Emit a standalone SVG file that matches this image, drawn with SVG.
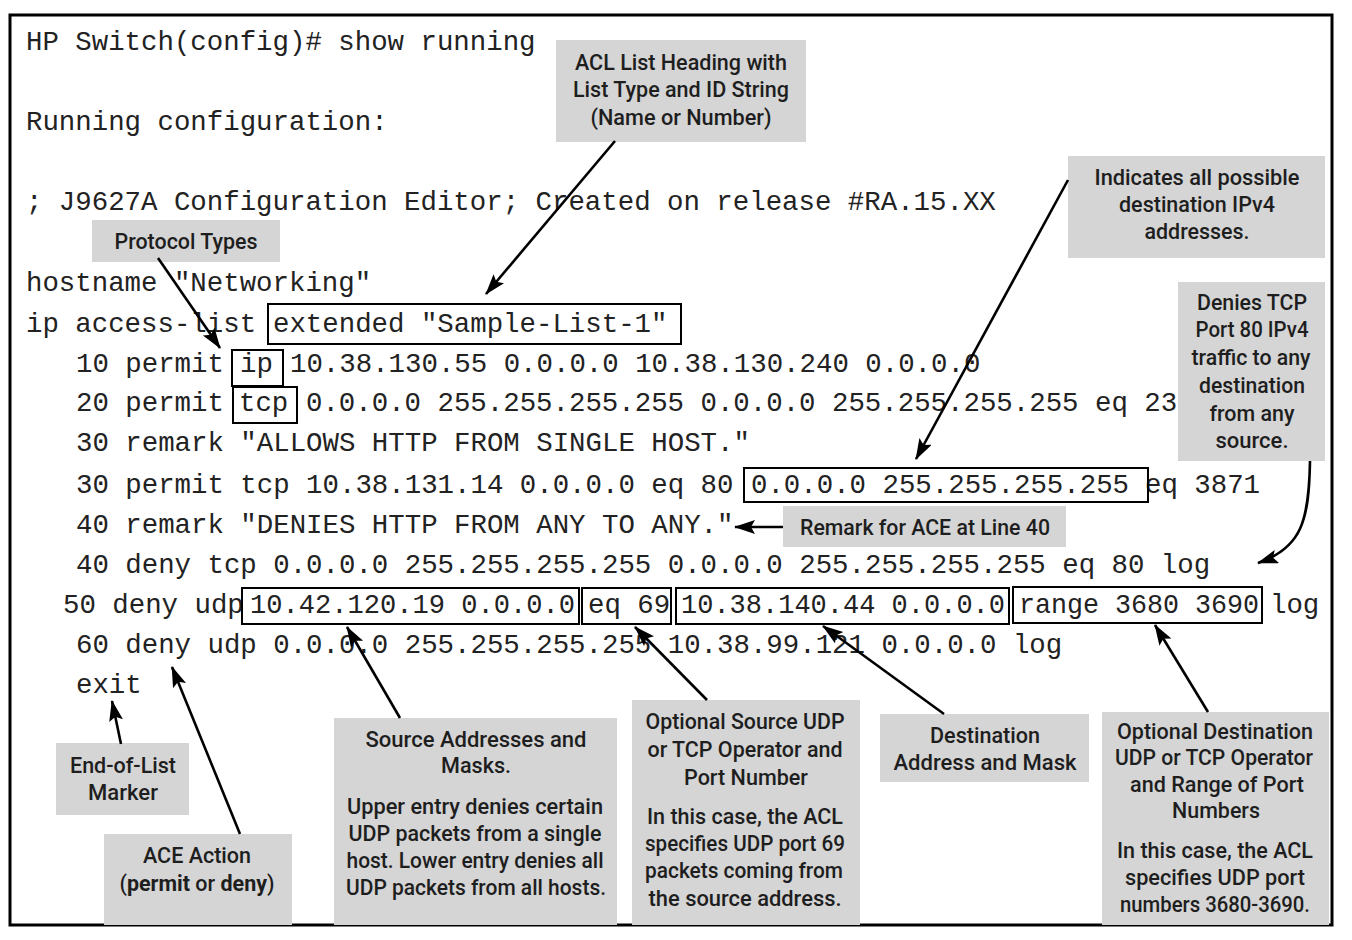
<svg xmlns="http://www.w3.org/2000/svg" width="1352" height="940" viewBox="0 0 1352 940">
<style>
.code{font-family:"Liberation Mono","Courier New",monospace;font-size:27.4px;fill:#222;}
.cbox{fill:none;stroke:#000;stroke-width:2;}
.call{fill:#d5d5d5;}
.lbl{font-family:Roboto,"Liberation Sans",sans-serif;font-size:22px;font-weight:500;fill:#1e1e1e;text-anchor:middle;}
.con{stroke:#000;stroke-width:2.6;fill:none;marker-end:url(#ah);}
</style>
<defs>
<marker id="ah" markerUnits="userSpaceOnUse" markerWidth="24" markerHeight="16" refX="20" refY="7" orient="auto">
<path d="M0,0 L21,7 L0,14 L4,7 Z" fill="#000"/>
</marker>
</defs>
<rect x="0" y="0" width="1352" height="940" fill="#fff"/>
<rect x="10" y="15" width="1322" height="910" fill="none" stroke="#000" stroke-width="3"/>

<g id="code">
<text class="code" x="26" y="50">HP Switch(config)# show running</text>
<text class="code" x="26" y="130">Running configuration:</text>
<text class="code" x="26" y="210">; J9627A Configuration Editor; Created on release #RA.15.XX</text>
<text class="code" x="26" y="291">hostname "Networking"</text>
<text class="code" x="26" y="332">ip access-list</text>
<text class="code" x="273" y="332">extended "Sample-List-1"</text>
<text class="code" x="76" y="372">10 permit</text>
<text class="code" x="240" y="372">ip</text>
<text class="code" x="290" y="372">10.38.130.55 0.0.0.0 10.38.130.240 0.0.0.0</text>
<text class="code" x="76" y="411">20 permit</text>
<text class="code" x="239" y="411">tcp</text>
<text class="code" x="306" y="411">0.0.0.0 255.255.255.255 0.0.0.0 255.255.255.255 eq 23</text>
<text class="code" x="76" y="451">30 remark "ALLOWS HTTP FROM SINGLE HOST."</text>
<text class="code" x="76" y="493">30 permit tcp 10.38.131.14 0.0.0.0 eq 80</text>
<text class="code" x="751" y="493">0.0.0.0 255.255.255.255</text>
<text class="code" x="1145" y="493">eq 3871</text>
<text class="code" x="76" y="533">40 remark "DENIES HTTP FROM ANY TO ANY."</text>
<text class="code" x="76" y="573">40 deny tcp 0.0.0.0 255.255.255.255 0.0.0.0 255.255.255.255 eq 80 log</text>
<text class="code" x="63" y="613">50 deny udp</text>
<text class="code" x="250" y="613" textLength="325" lengthAdjust="spacingAndGlyphs">10.42.120.19 0.0.0.0</text>
<text class="code" x="588" y="613">eq 69</text>
<text class="code" x="681" y="613" textLength="324" lengthAdjust="spacingAndGlyphs">10.38.140.44 0.0.0.0</text>
<text class="code" x="1019" y="613" textLength="240" lengthAdjust="spacingAndGlyphs">range 3680 3690</text>
<text class="code" x="1270" y="613">log</text>
<text class="code" x="76" y="653">60 deny udp 0.0.0.0 255.255.255.255 10.38.99.121 0.0.0.0 log</text>
<text class="code" x="76" y="693">exit</text>
</g>

<g id="code-boxes">
<rect class="cbox" x="268" y="304" width="413" height="40"/>
<rect class="cbox" x="232" y="350" width="51" height="36"/>
<rect class="cbox" x="233" y="387" width="64" height="36"/>
<rect class="cbox" x="744" y="468" width="404" height="34"/>
<rect class="cbox" x="242" y="588" width="337" height="36"/>
<rect class="cbox" x="582" y="588" width="89" height="36"/>
<rect class="cbox" x="676" y="588" width="333" height="36"/>
<rect class="cbox" x="1013" y="587" width="249" height="36"/>
</g>

<g id="acl-heading">
<rect class="call" x="556" y="40" width="250" height="102"/>
<text class="lbl" x="681" y="70" textLength="212" lengthAdjust="spacingAndGlyphs">ACL List Heading with</text>
<text class="lbl" x="681" y="97" textLength="216" lengthAdjust="spacingAndGlyphs">List Type and ID String</text>
<text class="lbl" x="681" y="125" textLength="181" lengthAdjust="spacingAndGlyphs">(Name or Number)</text>
</g>

<g id="indicates">
<rect class="call" x="1068" y="156" width="257" height="102"/>
<text class="lbl" x="1197" y="185" textLength="205" lengthAdjust="spacingAndGlyphs">Indicates all possible</text>
<text class="lbl" x="1197" y="212" textLength="156" lengthAdjust="spacingAndGlyphs">destination IPv4</text>
<text class="lbl" x="1197" y="239" textLength="105" lengthAdjust="spacingAndGlyphs">addresses.</text>
</g>

<g id="protocol-types">
<rect class="call" x="92" y="220" width="188" height="42"/>
<text class="lbl" x="186" y="249" textLength="143" lengthAdjust="spacingAndGlyphs">Protocol Types</text>
</g>

<g id="denies-tcp">
<rect class="call" x="1178" y="282" width="147" height="179"/>
<text class="lbl" x="1252" y="310" textLength="110" lengthAdjust="spacingAndGlyphs">Denies TCP</text>
<text class="lbl" x="1252" y="337" textLength="113" lengthAdjust="spacingAndGlyphs">Port 80 IPv4</text>
<text class="lbl" x="1251" y="365" textLength="119" lengthAdjust="spacingAndGlyphs">traffic to any</text>
<text class="lbl" x="1252" y="393" textLength="106" lengthAdjust="spacingAndGlyphs">destination</text>
<text class="lbl" x="1252" y="421" textLength="85" lengthAdjust="spacingAndGlyphs">from any</text>
<text class="lbl" x="1252" y="448" textLength="73" lengthAdjust="spacingAndGlyphs">source.</text>
</g>

<g id="remark-40">
<rect class="call" x="783" y="506" width="283" height="41"/>
<text class="lbl" x="925" y="535" textLength="250" lengthAdjust="spacingAndGlyphs">Remark for ACE at Line 40</text>
</g>

<g id="end-of-list">
<rect class="call" x="56" y="743" width="133" height="72"/>
<text class="lbl" x="123" y="773" textLength="106" lengthAdjust="spacingAndGlyphs">End-of-List</text>
<text class="lbl" x="123" y="800" textLength="70" lengthAdjust="spacingAndGlyphs">Marker</text>
</g>

<g id="ace-action">
<rect class="call" x="104" y="834" width="188" height="91"/>
<text class="lbl" x="197" y="863" textLength="108" lengthAdjust="spacingAndGlyphs">ACE Action</text>
<text class="lbl" x="197" y="891" textLength="155" lengthAdjust="spacingAndGlyphs">(<tspan font-weight="bold">permit</tspan> or <tspan font-weight="bold">deny</tspan>)</text>
</g>

<g id="source-addresses">
<rect class="call" x="334" y="718" width="283" height="207"/>
<text class="lbl" x="476" y="747" textLength="221" lengthAdjust="spacingAndGlyphs">Source Addresses and</text>
<text class="lbl" x="476" y="773" textLength="70" lengthAdjust="spacingAndGlyphs">Masks.</text>
<text class="lbl" x="475" y="814" textLength="256" lengthAdjust="spacingAndGlyphs">Upper entry denies certain</text>
<text class="lbl" x="475" y="841" textLength="253" lengthAdjust="spacingAndGlyphs">UDP packets from a single</text>
<text class="lbl" x="475" y="868" textLength="257" lengthAdjust="spacingAndGlyphs">host. Lower entry denies all</text>
<text class="lbl" x="476" y="895" textLength="260" lengthAdjust="spacingAndGlyphs">UDP packets from all hosts.</text>
</g>

<g id="optional-source">
<rect class="call" x="632" y="700" width="228" height="225"/>
<text class="lbl" x="745" y="729" textLength="199" lengthAdjust="spacingAndGlyphs">Optional Source UDP</text>
<text class="lbl" x="745" y="757" textLength="195" lengthAdjust="spacingAndGlyphs">or TCP Operator and</text>
<text class="lbl" x="746" y="785" textLength="124" lengthAdjust="spacingAndGlyphs">Port Number</text>
<text class="lbl" x="745" y="824" textLength="196" lengthAdjust="spacingAndGlyphs">In this case, the ACL</text>
<text class="lbl" x="745" y="851" textLength="200" lengthAdjust="spacingAndGlyphs">specifies UDP port 69</text>
<text class="lbl" x="744" y="878" textLength="198" lengthAdjust="spacingAndGlyphs">packets coming from</text>
<text class="lbl" x="745" y="906" textLength="193" lengthAdjust="spacingAndGlyphs">the source address.</text>
</g>

<g id="destination">
<rect class="call" x="880" y="714" width="209" height="68"/>
<text class="lbl" x="985" y="743" textLength="110" lengthAdjust="spacingAndGlyphs">Destination</text>
<text class="lbl" x="985" y="770" textLength="183" lengthAdjust="spacingAndGlyphs">Address and Mask</text>
</g>

<g id="optional-destination">
<rect class="call" x="1102" y="712" width="227" height="213"/>
<text class="lbl" x="1215" y="739" textLength="196" lengthAdjust="spacingAndGlyphs">Optional Destination</text>
<text class="lbl" x="1214" y="765" textLength="198" lengthAdjust="spacingAndGlyphs">UDP or TCP Operator</text>
<text class="lbl" x="1217" y="792" textLength="174" lengthAdjust="spacingAndGlyphs">and Range of Port</text>
<text class="lbl" x="1216" y="818" textLength="88" lengthAdjust="spacingAndGlyphs">Numbers</text>
<text class="lbl" x="1215" y="858" textLength="196" lengthAdjust="spacingAndGlyphs">In this case, the ACL</text>
<text class="lbl" x="1215" y="885" textLength="180" lengthAdjust="spacingAndGlyphs">specifies UDP port</text>
<text class="lbl" x="1215" y="912" textLength="190" lengthAdjust="spacingAndGlyphs">numbers 3680-3690.</text>
</g>

<g id="connectors">
<path class="con" d="M615,141 L486,294"/>
<path class="con" d="M158,258 L220,348"/>
<path class="con" d="M1068,180 L916,459"/>
<path class="con" d="M1310,461 C1309,520 1302,548 1258,563"/>
<path class="con" d="M783,527 L735,527"/>
<path class="con" d="M121,744 L112,701"/>
<path class="con" d="M240,834 L172,667"/>
<path class="con" d="M400,718 L347,627"/>
<path class="con" d="M707,700 L635,627"/>
<path class="con" d="M944,714 L823,626"/>
<path class="con" d="M1208,712 L1155,625"/>
</g>
</svg>
